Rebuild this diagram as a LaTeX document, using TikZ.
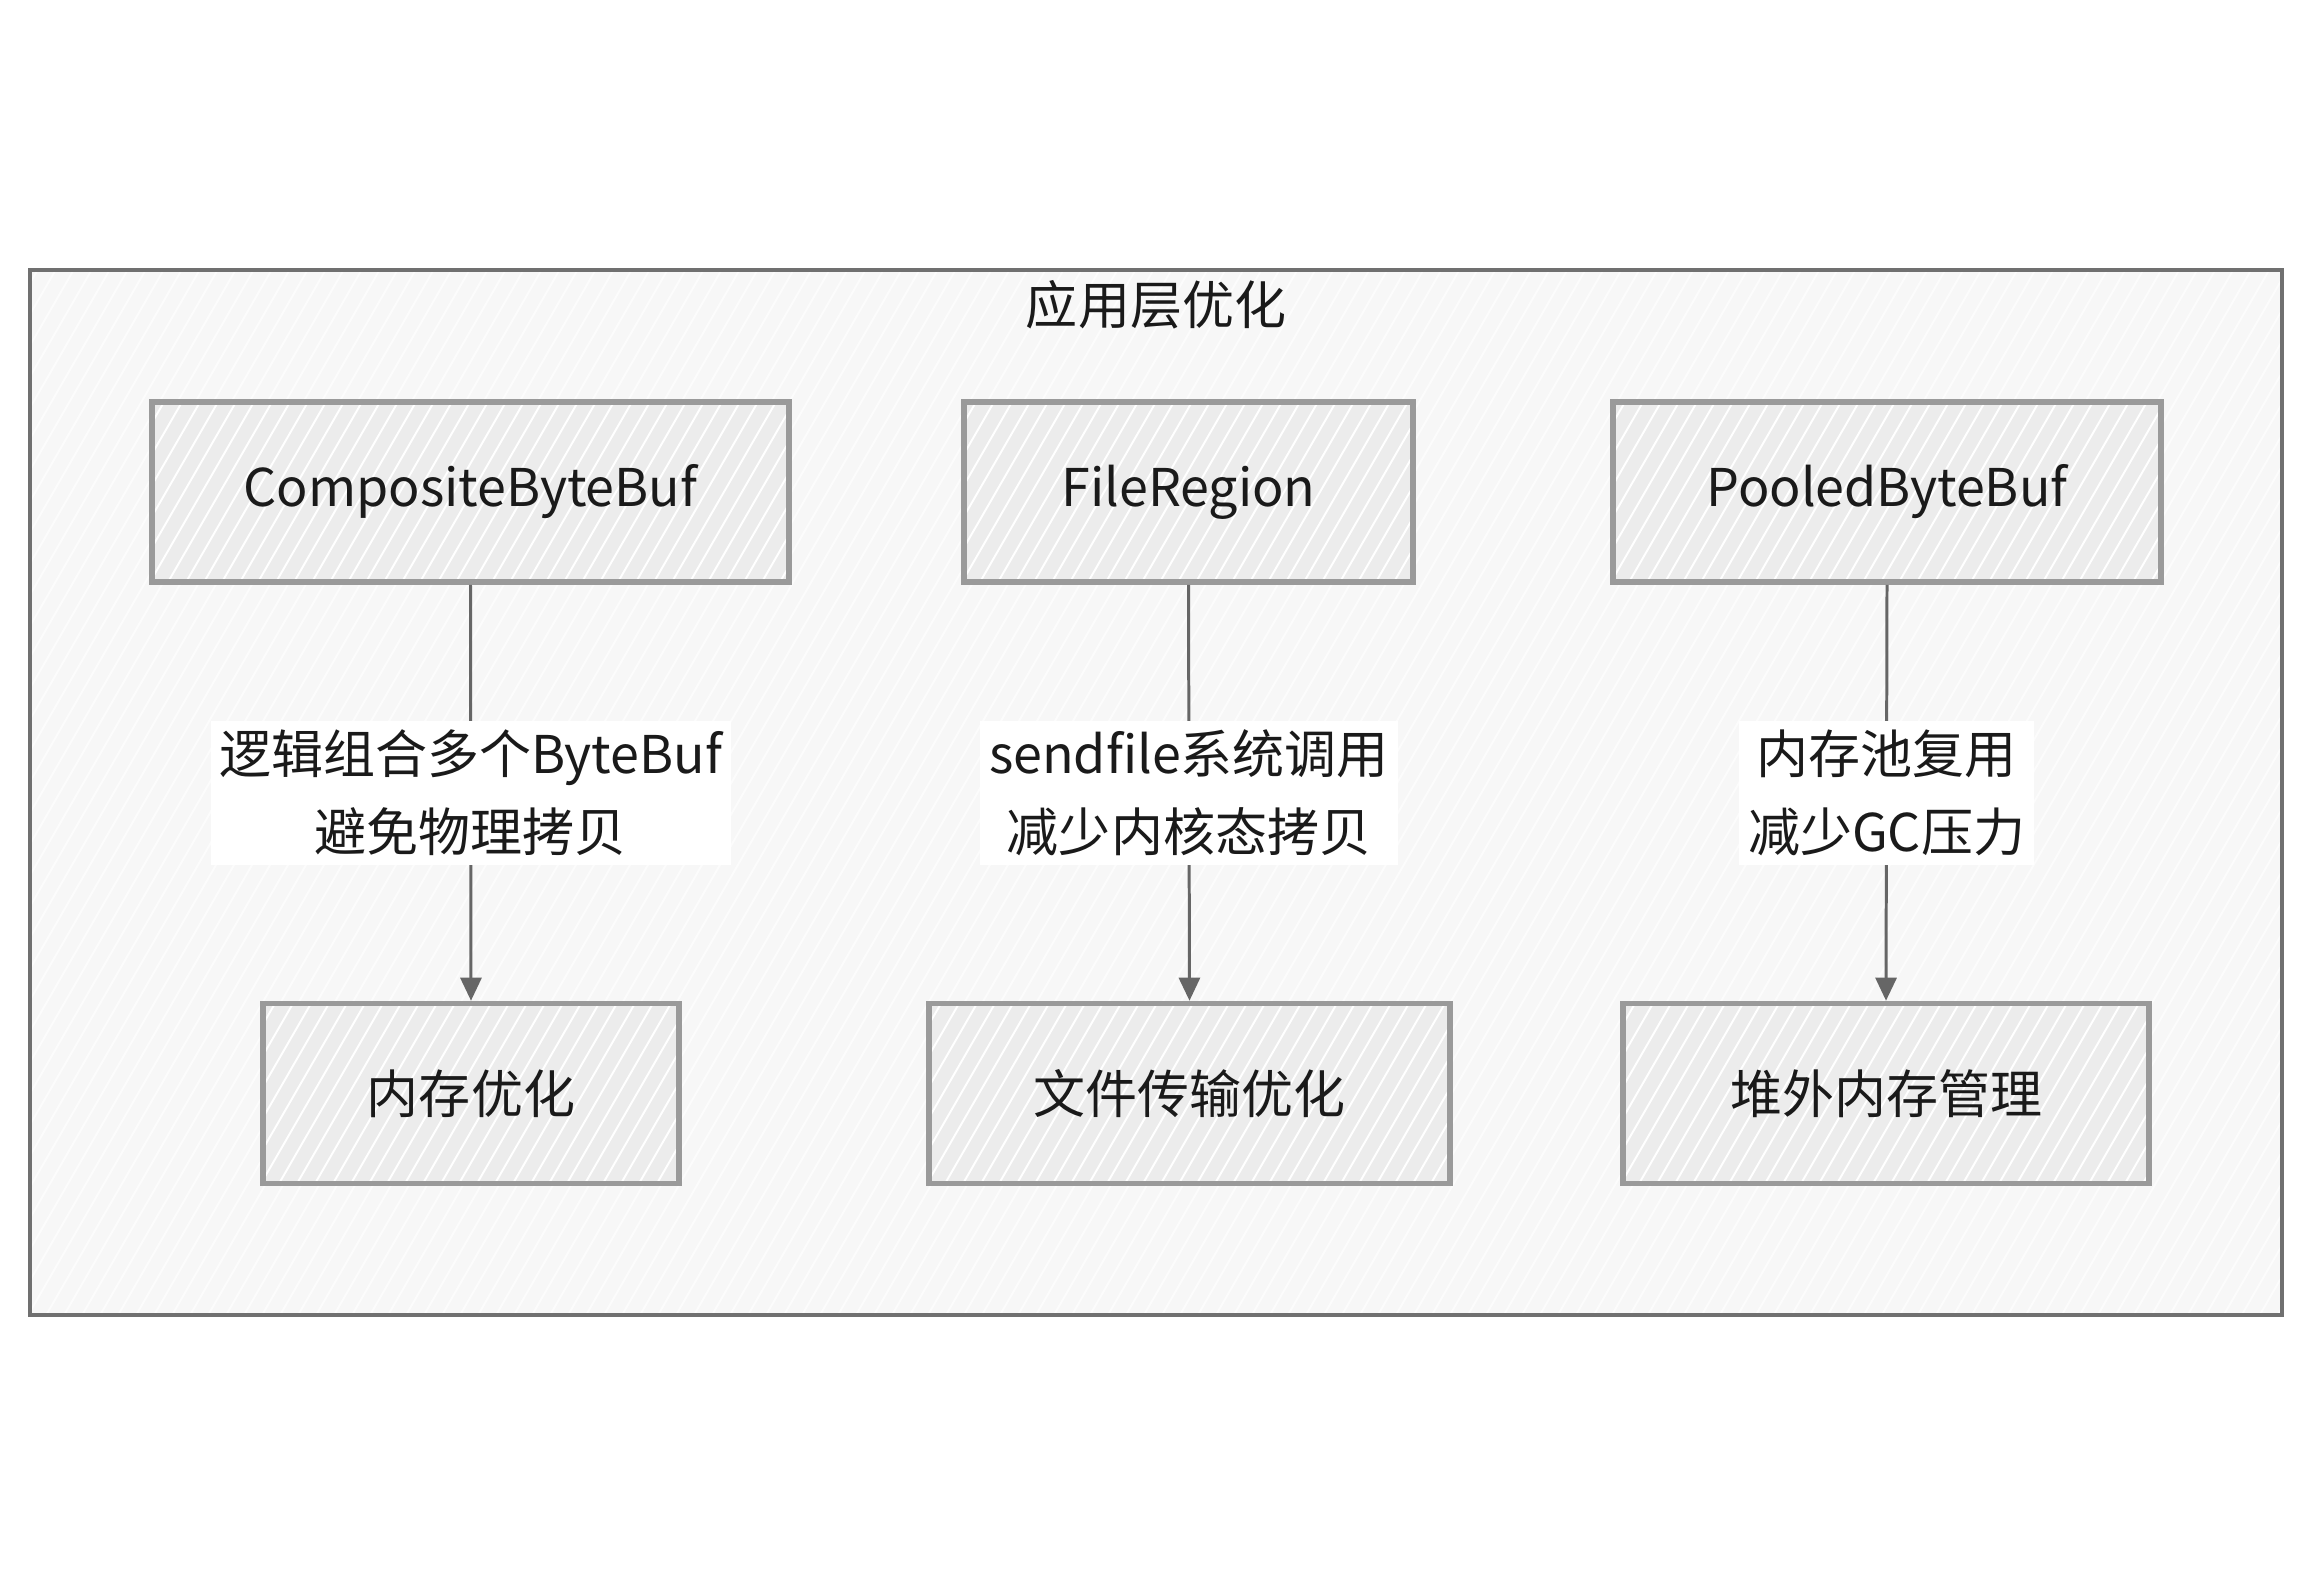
\documentclass[tikz,border=0pt]{standalone}
\usepackage{fontspec}
\setmainfont{Noto Sans CJK SC}
\usetikzlibrary{arrows.meta,positioning,calc}
\definecolor{zcink}{HTML}{1A1A1A}
\definecolor{zcedge}{HTML}{9A9A9A}
\definecolor{zcframe}{HTML}{707070}
\definecolor{zcfill}{HTML}{ECECEC}
\definecolor{zcframefill}{HTML}{F7F7F7}
\definecolor{zcarrow}{HTML}{666666}
\tikzset{
  zc/.style={font=\fontsize{29.6pt}{44.4pt}\selectfont, text=zcink},
  hatchfill/.style={path picture={
    \foreach \k in {-13,-12.64,...,46} {
      \draw[#1, line width=1.1pt]
        ([xshift=\k cm]path picture bounding box.south west) -- ++(60:26cm);
    }}},
  zcbox/.style={draw=zcedge, fill=zcfill, hatchfill=white, line width=3.2pt,
    minimum height=3.6cm, align=center, inner sep=0pt},
  zcframebox/.style={draw=zcframe, fill=zcframefill, hatchfill=white!60!zcframefill,
    line width=2.4pt, minimum width=45.04cm, minimum height=20.9cm, inner sep=0pt},
  zcnote/.style={fill=white, align=center, inner sep=5pt},
  zcarr/.style={-{Triangle[length=0.46cm,width=0.42cm]}, line width=1.7pt, draw=zcarrow},
}
\begin{document}
\begin{tikzpicture}[zc, x=0.02cm, y=-0.02cm]
  \useasboundingbox[fill=white] (0,0) rectangle (2316,1588);
  % outer frame
  \node[zcframebox] (frame) at (1156,792.5) {};
  \node (title) at ($(frame.north)+(0,37)$) {应用层优化};
  % upper row
  \node[zcbox, minimum width=12.74cm] (cbb) at (470.5,492) {CompositeByteBuf};
  \node[zcbox, minimum width=8.98cm] (freg) at (1188.5,492) {FileRegion};
  \node[zcbox, minimum width=10.96cm] (pbb) at (1887,492) {PooledByteBuf};
  % lower row
  \node[zcbox, minimum width=8.32cm] (memopt) at (471,1093.5) {内存优化};
  \node[zcbox, minimum width=10.42cm] (fileopt) at (1189.5,1093.5) {文件传输优化};
  \node[zcbox, minimum width=10.52cm] (offheap) at (1886,1093.5) {堆外内存管理};
  % connectors
  \draw[zcarr] (cbb.south) -- (memopt.north);
  \draw[zcarr] (freg.south) -- (fileopt.north);
  \draw[zcarr] (pbb.south) -- (offheap.north);
  % labels on the connectors
  \node[zcnote] (lcbb) at ($(cbb.south)!0.5!(memopt.north)$) {逻辑组合多个ByteBuf\\避免物理拷贝};
  \node[zcnote] (lfreg) at ($(freg.south)!0.5!(fileopt.north)$) {sendfile系统调用\\减少内核态拷贝};
  \node[zcnote] (lpbb) at ($(pbb.south)!0.5!(offheap.north)$) {内存池复用\\减少GC压力};
\end{tikzpicture}
\end{document}
